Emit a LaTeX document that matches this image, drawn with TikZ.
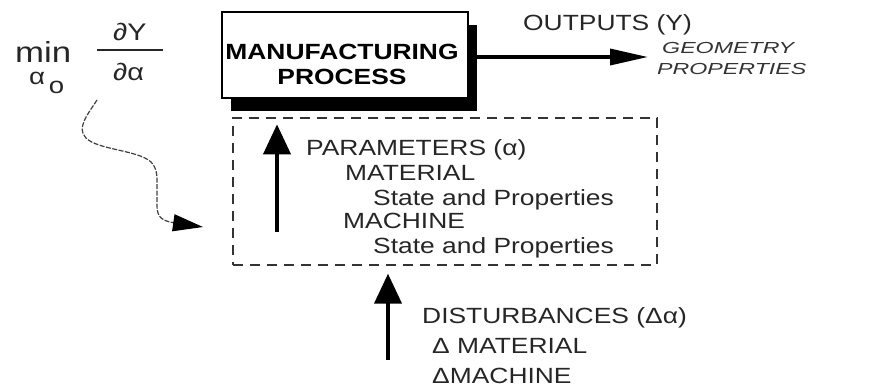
\documentclass[tikz,border=0pt]{standalone}
\usepackage{fontspec}
\setmainfont{Liberation Sans}[FakeStretch=1.2]
\newfontfamily\widefont{Liberation Sans}[FakeStretch=1.45]
\usetikzlibrary{positioning, arrows.meta, shadows}

\begin{document}
\begin{tikzpicture}[
    x=1pt, y=-1pt,
    every node/.style={font=\fontsize{22}{26}\selectfont, inner sep=0pt},
    process/.style={rectangle, draw=black, line width=2pt, fill=white, minimum width=246pt, minimum height=86pt, drop shadow={shadow xshift=9pt, shadow yshift=-13pt, fill=black, opacity=1}},
    boxtext/.style={align=center, font=\fontsize{22}{25}\selectfont\bfseries},
    paramsbox/.style={rectangle, draw=black!80, line width=1.3pt, dash pattern=on 10pt off 7pt, minimum width=424pt, minimum height=147pt},
    plaintext/.style={anchor=base west, text=black!85},
    resulttext/.style={anchor=base west, text=black!80, font=\widefont\fontsize{16}{18}\selectfont\itshape},
    bigarrow/.style={-{Triangle[length=30pt, width=27pt]}, line width=4pt},
    outarrow/.style={-{Triangle[length=38pt, width=16pt]}, line width=3.5pt},
    wavy/.style={-{Triangle[length=30pt, width=17pt, color=black]}, line width=1.2pt, black!75, dash pattern=on 5pt off 1.5pt}
]
    \useasboundingbox (0,0) rectangle (869,389);

    \node[process] (mp) at (345,55) {};
    \node[boxtext] (mplabel) at (342,64.5) {MANUFACTURING\\PROCESS};
    \node[paramsbox] (pbox) at (445,191.5) {};

    \node[plaintext] (outputs) at (523,30) {OUTPUTS (Y)};
    \node[resulttext] (geometry) at (662,53) {GEOMETRY};
    \node[resulttext] (properties) at (657,74) {PROPERTIES};
    \coordinate (outend) at (648,57);
    \draw[outarrow] (mp.east |- outend) -- (outend);

    \node[plaintext] (params) at (306,155) {PARAMETERS (α)};
    \node[plaintext] (material) at (345,180) {MATERIAL};
    \node[plaintext] (matstate) at (373,205) {State and Properties};
    \node[plaintext] (machine) at (343,228) {MACHINE};
    \node[plaintext] (machstate) at (373,253) {State and Properties};
    \coordinate (pbase) at (277,232);
    \draw[bigarrow, shorten >=7pt] (pbase) -- (pbase |- pbox.north);

    \node[plaintext] (dist) at (422,323) {DISTURBANCES (Δα)};
    \node[plaintext] (dmat) at (432,353) {Δ MATERIAL};
    \node[plaintext] (dmach) at (432,383) {ΔMACHINE};
    \coordinate (dbase) at (388,360);
    \draw[bigarrow, shorten >=8pt] (dbase) -- (dbase |- pbox.south);

    \node[plaintext, font=\fontsize{29}{32}\selectfont] (min) at (15,62) {min};
    \node[plaintext, font=\fontsize{23}{26}\selectfont] (alphao) at (29,84) {α\,\raisebox{-9pt}{o}};
    \node[plaintext, font=\fontsize{24}{28}\selectfont] (dy) at (113,40) {∂Y};
    \node[plaintext, font=\fontsize{24}{28}\selectfont] (dalpha) at (113,80) {∂α};
    \coordinate (barl) at (97,50);
    \coordinate (barr) at (163,50);
    \draw[line width=1.8pt, black!85] (barl) -- (barr);

    \coordinate (wstart) at (97,100);
    \coordinate (wend) at (203,227);
    \draw[wavy] (wstart) .. controls (88,114) and (76,128) .. (86,138) .. controls (98,150) and (138,150) .. (151,162) .. controls (158,169) and (157,178) .. (157,190) -- (157,206) .. controls (157,218) and (163,221) .. (175,223) -- (wend);
\end{tikzpicture}
\end{document}
